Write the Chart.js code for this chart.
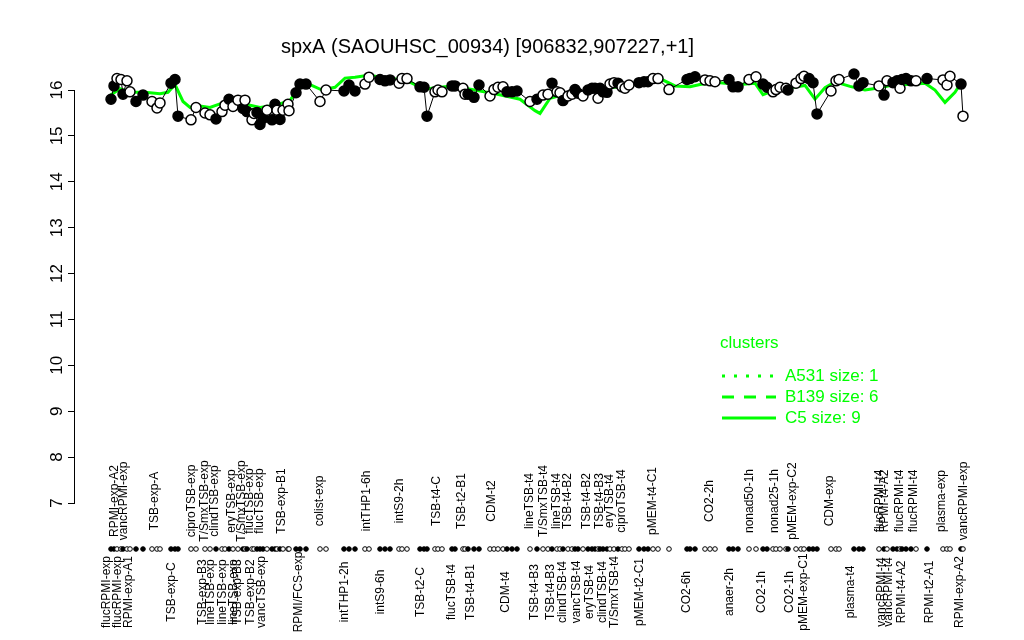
<!DOCTYPE html>
<html>
<head>
<meta charset="utf-8">
<script src="https://cdn.jsdelivr.net/npm/chart.js@4/dist/chart.umd.min.js"></script>
<style>
html, body { margin: 0; padding: 0; background: #fff; }
</style>
</head>
<body>
<canvas id="grafico" width="1024" height="640"></canvas>
<script>
const titulo = "spxA (SAOUHSC_00934) [906832,907227,+1]";
const fuente = '"Liberation Sans", Arial, Helvetica, sans-serif';
const verde = '#00ff00';

// posicion de cada muestra en el eje x y su valor de expresion
const posiciones = [111,114,117,121,123,127,130,136,143,152,157,160,171,175,178,191,196,205,210,216,
  222,225,229,233,238,243,245,247,252,254,257,260,263,267,272,275,277,280,283,288,
  289,296,300,306,320,326,344,349,355,365,369,380,385,390,399,402,407,420,424,427,
  435,438,442,452,455,463,465,468,474,479,490,494,498,503,507,512,517,530,537,543,
  548,552,557,560,563,568,572,575,578,583,588,592,595,598,600,603,607,610,614,618,
  622,625,629,639,644,648,653,658,669,687,690,695,705,710,715,729,733,738,749,756,
  763,767,773,776,780,786,788,796,801,804,809,813,817,831,836,839,854,859,863,879,
  884,887,893,897,900,902,906,911,916,927,943,947,950,961,963];
const valores = [15.80,16.09,16.25,16.23,15.91,16.20,15.96,15.75,15.89,15.75,15.61,15.72,16.15,16.23,15.43,15.35,15.62,15.50,15.46,15.37,
  15.53,15.67,15.80,15.64,15.78,15.60,15.78,15.53,15.35,15.49,15.51,15.25,15.38,15.56,15.35,15.69,15.56,15.36,15.56,15.69,
  15.55,15.94,16.13,16.13,15.75,16.00,15.98,16.11,15.98,16.13,16.28,16.23,16.20,16.22,16.15,16.25,16.25,16.07,16.06,15.43,
  15.96,16.00,15.96,16.09,16.09,16.04,15.91,15.91,15.84,16.11,15.87,16.01,16.06,16.07,15.96,15.96,15.98,15.75,15.80,15.89,
  15.91,16.15,15.96,15.94,15.77,15.87,15.91,16.01,15.93,15.87,16.00,16.04,16.04,15.82,16.04,15.96,15.95,16.13,16.16,16.15,
  16.07,16.04,16.11,16.16,16.18,16.18,16.25,16.25,16.01,16.23,16.25,16.29,16.22,16.20,16.18,16.23,16.07,16.07,16.23,16.29,
  16.13,16.06,15.96,16.01,16.06,16.04,16.00,16.15,16.25,16.30,16.25,16.16,15.48,15.98,16.20,16.23,16.35,16.09,16.16,16.09,
  15.89,16.20,16.16,16.20,16.04,16.23,16.25,16.20,16.20,16.25,16.22,16.11,16.30,16.13,15.43];
// 1 = punto relleno (negro), 0 = punto vacio
const relleno = [1,1,0,0,1,0,0,1,1,0,0,0,1,1,1,0,0,0,0,1,
  0,0,1,0,0,1,0,1,0,0,1,1,1,0,1,1,0,1,0,0,
  0,1,1,1,0,0,1,1,1,0,0,1,1,1,0,0,0,1,1,1,
  0,0,0,1,1,0,0,1,1,1,0,0,0,0,1,1,1,0,1,0,
  0,1,0,0,1,0,0,1,1,0,1,1,1,0,1,1,1,0,0,1,
  0,0,0,1,1,1,0,0,0,1,1,1,0,0,0,1,1,1,0,0,
  1,1,0,0,0,0,1,0,0,0,1,1,1,0,0,0,1,1,1,0,
  1,0,1,1,0,1,1,1,0,1,0,0,0,1,0];

// perfil del cluster (linea verde)
const clusterPos = [110,120,130,145,160,168,175,183,190,200,210,220,230,240,250,260,270,280,290,300,
  310,322,335,345,355,365,375,390,405,415,425,435,450,465,480,495,510,520,535,540,
  550,560,575,590,610,630,650,660,675,690,700,715,725,740,755,763,775,790,805,815,
  825,835,850,865,880,895,910,925,935,945,955,960];
const clusterVal = [15.88,16.03,15.95,15.95,15.92,15.95,16.12,15.75,15.62,15.65,15.62,15.70,15.78,15.72,15.67,15.62,15.65,15.70,15.78,16.06,
  16.12,16.00,16.06,16.26,16.28,16.31,16.30,16.25,16.22,16.12,16.02,16.05,16.08,16.04,15.98,15.92,15.85,15.80,15.55,15.49,
  15.82,15.88,15.92,15.97,16.05,16.10,16.26,16.25,16.09,16.07,16.12,16.17,16.15,16.12,16.15,15.90,16.00,16.05,16.10,15.80,
  16.05,16.18,16.08,16.00,16.05,16.12,16.12,16.15,16.00,15.73,15.95,16.12];

// etiquetas de condiciones (fila superior e inferior)
const posArriba = [115,124,155,192,205,215,232,242,250,260,282,320,367,400,437,462,492,530,544,557,
  568,587,600,610,622,653,710,750,775,793,830,880,885,900,914,942,964];
const etiquetasArriba = ["RPMI-exp-A2","vancRPMI-exp","TSB-exp-A","ciproTSB-exp","T/SmxTSB-exp","clindTSB-exp",
  "eryTSB-exp","T/SmxTSB-exp","flucTSB-exp","flucTSB-exp","TSB-exp-B1","colist-exp","intTHP1-6h","intS9-2h",
  "TSB-t4-C","TSB-t2-B1","CDM-t2","lineTSB-t4","T/SmxTSB-t4","lineTSB-t4","TSB-t4-B2","TSB-t4-B2","TSB-t4-B3",
  "eryTSB-t4","ciproTSB-t4","pMEM-t4-C1","CO2-2h","nonad50-1h","nonad25-1h","pMEM-exp-C2","CDM-exp",
  "flucRPMI-t4","RPMI-t4-A2","flucRPMI-t4","flucRPMI-t4","plasma-exp","vancRPMI-exp"];
const posAbajo = [107,118,129,172,203,211,223,234,238,251,262,299,345,381,421,452,471,506,535,551,
  563,577,590,603,615,640,687,730,762,790,804,851,882,889,902,930,960];
const etiquetasAbajo = ["flucRPMI-exp","flucRPMI-exp","RPMI-exp-A1","TSB-exp-C","TSB-exp-B3","lineTSB-exp",
  "lineTSB-exp","lineTSB-exp","TSB-exp-B3","TSB-exp-B2","vancTSB-exp","RPMI/FCS-exp","intTHP1-2h","intS9-6h",
  "TSB-t2-C","flucTSB-t4","TSB-t4-B1","CDM-t4","TSB-t4-B3","TSB-t4-B3","clindTSB-t4","vancTSB-t4","eryTSB-t4",
  "clindTSB-t4","T/SmxTSB-t4","pMEM-t2-C1","CO2-6h","anaer-2h","CO2-1h","CO2-1h","pMEM-exp-C1","plasma-t4",
  "vancRPMI-t4","vancRPMI-t4","RPMI-t4-A2","RPMI-t2-A1","RPMI-exp-A2"];

// leyenda
const clusters = ["A531","B139","C5"];
const tamanos = [1,6,9];
const trazos = [[3,9],[12,10],[]];

// eje y: solo se dibuja entre el primer y el ultimo tick
const ejeY = {
  id: 'ejeY',
  afterDraw(chart) {
    const ctx = chart.ctx;
    const y = chart.scales.y;
    const x0 = chart.chartArea.left - 0.5;
    ctx.save();
    ctx.strokeStyle = '#000';
    ctx.lineWidth = 1;
    ctx.beginPath();
    ctx.moveTo(x0, y.getPixelForValue(16));
    ctx.lineTo(x0, y.getPixelForValue(7));
    ctx.stroke();
    ctx.restore();
  }
};

const extras = {
  id: 'extras',
  afterDraw(chart) {
    const ctx = chart.ctx;
    const x = chart.scales.x;
    ctx.save();
    ctx.fillStyle = '#000';
    ctx.font = '12px ' + fuente;
    ctx.textAlign = 'center';
    ctx.textBaseline = 'middle';
    const rotulo = (txt, pos, yc) => {
      ctx.save();
      ctx.translate(x.getPixelForValue(pos), yc);
      ctx.rotate(-Math.PI / 2);
      ctx.fillText(txt, 0, 0);
      ctx.restore();
    };
    etiquetasArriba.forEach((t, i) => rotulo(t, posArriba[i], 501));
    etiquetasAbajo.forEach((t, i) => rotulo(t, posAbajo[i], 592));

    // fila de puntos bajo el grafico
    ctx.lineWidth = 1;
    ctx.strokeStyle = '#000';
    posiciones.forEach((p, i) => {
      ctx.beginPath();
      ctx.arc(x.getPixelForValue(p), 549, 2.3, 0, Math.PI * 2);
      ctx.fillStyle = relleno[i] ? '#000' : '#fff';
      ctx.fill();
      ctx.stroke();
    });

    // leyenda de clusters
    const ly = [376, 397, 418];
    ctx.font = '17px ' + fuente;
    ctx.textAlign = 'left';
    ctx.fillStyle = verde;
    ctx.strokeStyle = verde;
    ctx.fillText('clusters', 720, 343);
    clusters.forEach((c, i) => {
      ctx.lineWidth = 3;
      ctx.setLineDash(trazos[i]);
      ctx.beginPath();
      ctx.moveTo(722, ly[i]);
      ctx.lineTo(776, ly[i]);
      ctx.stroke();
      ctx.setLineDash([]);
      ctx.fillText(c + ' size: ' + tamanos[i], 785, ly[i]);
    });
    ctx.restore();
  }
};

const dibujar = () => {
  const puntos = posiciones.map((p, i) => ({ x: p, y: valores[i] }));
  const perfil = clusterPos.map((p, i) => ({ x: p, y: clusterVal[i] }));
  new Chart(document.getElementById('grafico'), {
    type: 'scatter',
    data: {
      datasets: [
        {
          label: 'C5',
          data: perfil,
          showLine: true,
          borderColor: verde,
          borderWidth: 3,
          pointRadius: 0,
          clip: false,
          order: 2
        },
        {
          label: 'spxA',
          data: puntos,
          showLine: true,
          borderColor: '#000',
          borderWidth: 1,
          pointRadius: 5,
          pointBorderWidth: 1.5,
          pointBorderColor: '#000',
          pointBackgroundColor: relleno.map(r => r ? '#000' : '#fff'),
          clip: false,
          order: 1
        }
      ]
    },
    options: {
      responsive: false,
      animation: false,
      events: [],
      layout: { padding: { left: 0, right: 49, top: 0, bottom: 137 } },
      plugins: {
        legend: { display: false },
        tooltip: { enabled: false },
        title: {
          display: true,
          text: titulo,
          color: '#000',
          font: { family: fuente, size: 20, weight: 'normal' },
          padding: { top: 35, bottom: 3.5 }
        }
      },
      scales: {
        x: { type: 'linear', min: 75, max: 975, display: false },
        y: {
          min: 7,
          max: 16.6,
          afterFit: (s) => { s.width = 75; },
          border: { display: false },
          grid: { drawOnChartArea: false, color: '#000', tickLength: 7, tickWidth: 1 },
          ticks: {
            stepSize: 1,
            includeBounds: false,
            color: '#000',
            font: { family: fuente, size: 17 },
            minRotation: 90,
            maxRotation: 90,
            crossAlign: 'center',
            padding: 1
          }
        }
      }
    },
    plugins: [ejeY, extras]
  });
};

document.addEventListener('DOMContentLoaded', dibujar);
</script>
</body>
</html>
